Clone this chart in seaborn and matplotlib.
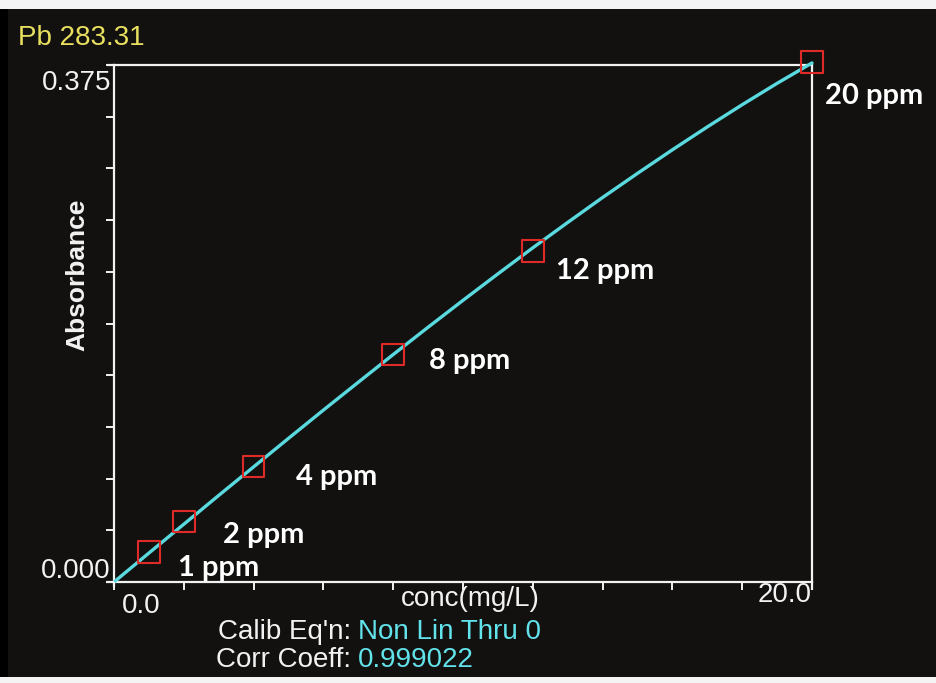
import numpy as np
import pandas as pd
import matplotlib
matplotlib.use("Agg")
import matplotlib.pyplot as plt
from matplotlib.patches import Rectangle
from matplotlib.lines import Line2D
import seaborn as sns

# ---------------- data ----------------
title = "Pb 283.31"
x_label = "conc(mg/L)"
y_label = "Absorbance"
std_conc = [1, 2, 4, 8, 12, 20]
std_abs = [0.0216, 0.0438, 0.0838, 0.165, 0.240, 0.377]
std_labels = ["1 ppm", "2 ppm", "4 ppm", "8 ppm", "12 ppm", "20 ppm"]
curve_conc = [0, 1, 2, 3, 4, 5, 6, 7, 8, 9, 10, 11, 12, 13, 14, 15, 16, 17, 18, 19, 20]
curve_abs = [0.0, 0.0210, 0.0419, 0.0628, 0.0835, 0.1042, 0.1247, 0.1449, 0.1650,
             0.1848, 0.2043, 0.2235, 0.2424, 0.2608, 0.2789, 0.2964, 0.3135, 0.3301,
             0.3462, 0.3617, 0.3765]
y_tick_labels = ["0.000", "0.375"]
x_tick_labels = ["0.0", "20.0"]
calib_name, calib_value = "Calib Eq'n:", "Non Lin Thru 0"
corr_name, corr_value = "Corr Coeff:", "0.999022"

# ---------------- style ----------------
W, H = 936, 683
BG = "#121110"
WHITE = "#f2f2f2"
CYAN = "#5adadf"
CYAN_TXT = "#62e2ea"
RED = "#e02a28"
YELLOW = "#e8e05e"
SCREEN_FONT = ["Liberation Sans", "DejaVu Sans"]
LABEL_FONT = ["Lato", "DejaVu Sans"]

sns.set_theme(style="dark")
plt.rcParams["font.family"] = SCREEN_FONT

fig = plt.figure(figsize=(W / 100, H / 100), dpi=100, facecolor=BG)

def fx(px):
    return px / W

def fy(py):
    return 1 - py / H

# photo frame: white strips top/bottom, black strip left
fig.patches.append(Rectangle((0, fy(9)), 1, 9 / H, transform=fig.transFigure,
                             facecolor="#f4f4f4", edgecolor="none", zorder=0))
fig.patches.append(Rectangle((0, 0), 1, 6 / H, transform=fig.transFigure,
                             facecolor="#f4f4f4", edgecolor="none", zorder=0))
fig.patches.append(Rectangle((0, fy(677)), 8 / W, (677 - 9) / H, transform=fig.transFigure,
                             facecolor="#000000", edgecolor="none", zorder=0))

L, R, T, B = 114, 812, 65, 582
ax = fig.add_axes([fx(L), fy(B), fx(R) - fx(L), (B - T) / H])
ax.set_facecolor(BG)

curve_df = pd.DataFrame({"conc": curve_conc, "abs": curve_abs})
std_df = pd.DataFrame({"conc": std_conc, "abs": std_abs, "label": std_labels})

sns.lineplot(data=curve_df, x="conc", y="abs", ax=ax, color=CYAN, linewidth=2.4,
             clip_on=False, zorder=3)
sns.scatterplot(data=std_df, x="conc", y="abs", ax=ax, marker="s", s=240,
                facecolor="none", edgecolor=RED, linewidth=1.5, clip_on=False, zorder=4)

ax.set_xlim(0, 20)
ax.set_ylim(0, 0.375)
ax.set_xticks(np.arange(0, 20.01, 2))
ax.set_yticks(np.linspace(0, 0.375, 11))
ax.set_xticklabels([])
ax.set_yticklabels([])
ax.set_xlabel("")
ax.set_ylabel("")
ax.grid(False)
ax.tick_params(axis="both", direction="out", colors=WHITE, length=6, width=1.4,
               bottom=True, left=True)
for sp in ax.spines.values():
    sp.set_visible(True)
    sp.set_color(WHITE)
    sp.set_linewidth(1.6)

# small overshoots of the screen frame lines
for (x0, y0, x1, y1) in [(L - 7, T, L, T), (L - 8, B, L, B), (R, B, R, B + 8), (L, B, L, B + 5)]:
    fig.add_artist(Line2D([fx(x0), fx(x1)], [fy(y0), fy(y1)], transform=fig.transFigure,
                          color=WHITE, linewidth=1.6, solid_capstyle="butt"))

# point labels
offsets = [(29, -16), (39, -13), (42, -11), (36, -6), (23, -20), (13, -34)]
for (c, a, lab), (dx, dy) in zip(zip(std_conc, std_abs, std_labels), offsets):
    ax.annotate(lab, (c, a), xytext=(dx, dy), textcoords="offset pixels",
                ha="left", va="center", color="white", fontsize=21, fontweight="bold",
                family=LABEL_FONT, annotation_clip=False)

# screen texts
fig.text(fx(18), fy(38), title, color=YELLOW, fontsize=20, ha="left", va="center")
fig.text(fx(111), fy(83), y_tick_labels[1], color=WHITE, fontsize=20, ha="right", va="center")
fig.text(fx(111), fy(571), y_tick_labels[0], color=WHITE, fontsize=20, ha="right", va="center")
fig.text(fx(122), fy(606), x_tick_labels[0], color=WHITE, fontsize=20, ha="left", va="center")
fig.text(fx(812), fy(595), x_tick_labels[1], color=WHITE, fontsize=20, ha="right", va="center")
fig.text(fx(470), fy(599), x_label, color=WHITE, fontsize=20, ha="center", va="center")
fig.text(fx(77), fy(275), y_label, color=WHITE, fontsize=19, fontweight="bold",
         rotation=90, ha="center", va="center")
fig.text(fx(351), fy(632), calib_name, color=WHITE, fontsize=20, ha="right", va="center")
fig.text(fx(358), fy(632), calib_value, color=CYAN_TXT, fontsize=20, ha="left", va="center")
fig.text(fx(351), fy(660), corr_name, color=WHITE, fontsize=20, ha="right", va="center")
fig.text(fx(358), fy(660), corr_value, color=CYAN_TXT, fontsize=20, ha="left", va="center")

fig.savefig("out.png", dpi=100, facecolor=BG)
